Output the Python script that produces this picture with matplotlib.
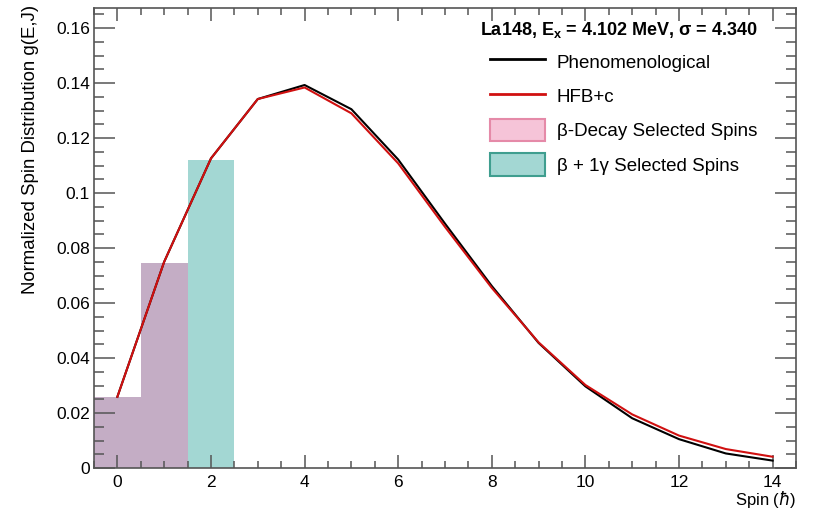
import matplotlib
matplotlib.use("Agg")
import matplotlib.pyplot as plt
from matplotlib.patches import Patch
from matplotlib.lines import Line2D
from matplotlib.ticker import MultipleLocator

plt.rcParams['font.family'] = ['Liberation Sans', 'DejaVu Sans']
plt.rcParams['mathtext.fontset'] = 'custom'
plt.rcParams['mathtext.rm'] = 'Liberation Sans'
plt.rcParams['mathtext.bf'] = 'Liberation Sans:bold'

# data
spins = [0, 1, 2, 3, 4, 5, 6, 7, 8, 9, 10, 11, 12, 13, 14]
phenom = [0.0259, 0.0750, 0.1126, 0.1342, 0.1393, 0.1305, 0.1122, 0.0889, 0.0662, 0.0455,
          0.0297, 0.0181, 0.0105, 0.0053, 0.0027]
hfbc = [0.0259, 0.0750, 0.1126, 0.1342, 0.1384, 0.1290, 0.1108, 0.0877, 0.0655, 0.0457,
        0.0302, 0.0195, 0.0118, 0.0069, 0.0041]
beta_spins = [0, 1]
beta_vals = [0.0259, 0.0747]
gamma_spins = [2]
gamma_vals = [0.1122]

fig = plt.figure(figsize=(8.15, 5.11), dpi=100)
ax = fig.add_axes([0.1153, 0.0841, 0.8614, 0.9002])

purple = "#c4adc5"
teal = "#a3d7d3"
ax.bar(beta_spins, beta_vals, width=1.0, color=purple, linewidth=0)
ax.bar(gamma_spins, gamma_vals, width=1.0, color=teal, linewidth=0)
ax.plot(spins, phenom, color="black", lw=1.5)
ax.plot(spins, hfbc, color="#d01010", lw=1.5)

ax.set_xlim(-0.5, 14.5)
ax.set_ylim(0, 0.1673)
ax.xaxis.set_major_locator(MultipleLocator(2))
ax.xaxis.set_minor_locator(MultipleLocator(0.5))
ax.yaxis.set_minor_locator(MultipleLocator(0.005))
ax.set_yticks([0, 0.02, 0.04, 0.06, 0.08, 0.1, 0.12, 0.14, 0.16])
ax.set_yticklabels(["0", "0.02", "0.04", "0.06", "0.08", "0.1", "0.12", "0.14", "0.16"])

frame = "#555555"
for s in ax.spines.values():
    s.set_color(frame)
    s.set_linewidth(1.2)
ax.tick_params(which="both", direction="in", top=True, right=True, colors=frame,
               labelcolor="black", labelsize=12.5, width=1.1)
ax.tick_params(axis="x", which="major", length=9.5, pad=5)
ax.tick_params(axis="x", which="minor", length=5)
ax.tick_params(axis="y", which="major", length=15, pad=3)
ax.tick_params(axis="y", which="minor", length=7.5)

fig.text(0.037, 0.99, "Normalized Spin Distribution g(E,J)", rotation=90,
         ha="center", va="top", fontsize=13.4)
fig.text(0.977, 0.022, "Spin ($\\hbar$)", ha="right", va="center", fontsize=12)

fig.text(0.929, 0.941, r"La148, E$_\mathbf{x}$ = 4.102 MeV, σ = 4.340",
         ha="right", va="center", fontsize=13, fontweight="bold")

handles = [
    Line2D([], [], color="black", lw=2),
    Line2D([], [], color="#d01010", lw=2),
    Patch(facecolor="#f6c4d8", edgecolor="#e58aa8", linewidth=1.5),
    Patch(facecolor=teal, edgecolor="#3f9e8f", linewidth=1.5),
]
labels = ["Phenomenological", "HFB+c", "β-Decay Selected Spins", "β + 1γ Selected Spins"]
ax.legend(handles, labels, loc="upper left", bbox_to_anchor=(0.601, 0.901),
          bbox_transform=fig.transFigure, frameon=False, fontsize=13.5,
          handlelength=2.93, handleheight=1.45, handletextpad=0.64,
          labelspacing=0.64, borderpad=0, borderaxespad=0)

fig.savefig("out.png", dpi=100)
